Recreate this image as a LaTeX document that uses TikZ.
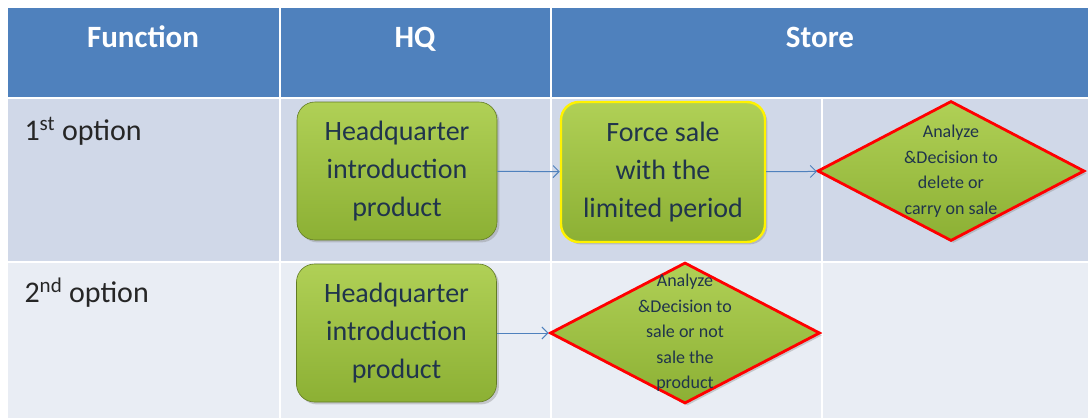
\documentclass[tikz,border=0pt]{standalone}
\usepackage{fontspec}
\setmainfont{Carlito}
\usetikzlibrary{positioning,shapes.geometric,shadows,arrows.meta}
\definecolor{hdr}{RGB}{79,129,189}
\definecolor{rowa}{RGB}{208,216,232}
\definecolor{rowb}{RGB}{233,237,244}
\definecolor{gtop}{RGB}{176,208,86}
\definecolor{gbot}{RGB}{140,176,52}
\definecolor{txt}{RGB}{32,52,76}
\tikzset{hq/.style={rectangle,rounded corners=18pt,draw=gbot!70!black,line width=0.6pt,
            top color=gtop,bottom color=gbot,drop shadow={opacity=0.35},
            minimum width=200pt,minimum height=138pt,align=center,text=txt,
            font=\fontsize{28}{38}\selectfont},
         dec/.style={diamond,draw=red,line width=2.8pt,top color=gtop,bottom color=gbot,
            drop shadow={opacity=0.35},inner sep=0pt,minimum width=267pt,minimum height=140pt},
         dtxt/.style={align=center,text=txt,font=\fontsize{18}{25.5}\selectfont},
         head/.style={text=white,font=\bfseries\fontsize{31}{36}\selectfont,anchor=base},
         opt/.style={text=black!85,font=\fontsize{30}{36}\selectfont,anchor=base west},
         arr/.style={-{Straight Barb[length=6pt,width=12pt]},draw=hdr,line width=1pt}}

\begin{document}
\begin{tikzpicture}[x=1pt,y=-1pt]
\useasboundingbox (0,0) rectangle (1088,418);
% table
\fill[hdr] (8,8) rectangle (1088,98);
\fill[rowa] (8,98) rectangle (1088,262);
\fill[rowb] (8,262) rectangle (1088,418);
\draw[white,line width=2pt] (8,98) -- (1088,98) (8,262) -- (1088,262);
\draw[white,line width=2pt] (280,8) -- (280,418) (551,8) -- (551,418);
\draw[white,line width=2pt] (822,98) -- (822,418);
\node[head] at (143,47)(fn){Function};
\node[head] at (415,47)(hqh){HQ};
\node[head] at (820,47)(st){Store};
\node[opt] at (21,140)(o1){1\textsuperscript{st} option};
\node[opt] at (21,302)(o2){2\textsuperscript{nd} option};
% first option
\node[hq] at (397,171)(hq1){Headquarter\\introduction\\product};
\node[hq,draw=yellow,line width=2.4pt,minimum width=204pt,minimum height=140pt] at (663,172)(force){Force sale\\with the\\limited period};
\node[dec] at (951,171)(d1){};
\node[dtxt] at (d1)(d1t){Analyze\\\&Decision to\\delete or\\carry on sale};
% second option
\node[hq] at (396.5,333)(hq2){Headquarter\\introduction\\product};
\node[dec,minimum width=270pt,minimum height=141pt] at (685,333)(d2){};
\node[dtxt] at (d2)(d2t){Analyze\\\&Decision to\\sale or not\\sale the\\product};
\draw[arr] (hq1) -- (force);
\draw[arr] (force) -- (d1);
\draw[arr] (hq2) -- (d2);
\end{tikzpicture}
\end{document}
